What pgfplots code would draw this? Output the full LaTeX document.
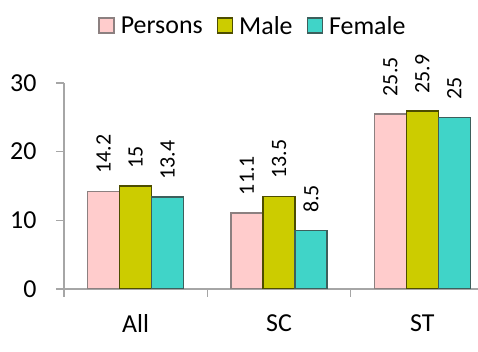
\documentclass[border=0pt]{standalone}
\usepackage{pgfplots}
\pgfplotsset{compat=1.18}
\usepackage{fontspec}
\setmainfont{Carlito}
\definecolor{persfill}{HTML}{FFCCCC}
\definecolor{persdraw}{HTML}{8C8080}
\definecolor{malefill}{HTML}{CCCC00}
\definecolor{maledraw}{HTML}{4D4D00}
\definecolor{femfill}{HTML}{40D4C8}
\definecolor{femdraw}{HTML}{3D5F5C}
\definecolor{axgray}{HTML}{A6A6A6}
\begin{document}
\begin{tikzpicture}
\useasboundingbox (0,0) rectangle (478bp,352bp);
\clip (0,0) rectangle (478bp,352bp);
\begin{axis}[
    at={(64bp,63bp)}, anchor=south west,
    scale only axis,
    width=430bp, height=206bp,
    xmin=-0.5, xmax=2.5,
    ymin=0, ymax=30,
    ytick={0,10,20,30},
    xtick={-0.5,0.5,1.5,2.5},
    xticklabels={},
    extra x ticks={0,1,2},
    extra x tick labels={All,SC,ST},
    extra x tick style={major tick length=0pt, tick label style={yshift=-22bp}},
    axis x line*=bottom,
    axis y line*=left,
    axis line style={axgray, line width=1.5bp},
    tick style={axgray, line width=1.5bp},
    major tick length=8bp,
    tick align=outside,
    tick label style={font=\fontsize{26}{30}\selectfont, black},
    yticklabel style={xshift=-16bp},
    /pgf/number format/assume math mode=true,
    ybar,
    bar width=0.2233,
    nodes near coords,
    every node near coord/.append style={font=\fontsize{22}{26}\selectfont, black,
        rotate=90, anchor=west, inner sep=0pt, xshift=17bp},
    legend style={at={(0.437,1.277)}, anchor=center, draw=none, fill=none,
        legend columns=3, font=\fontsize{26}{30}\selectfont,
        nodes={inner xsep=0pt},
        /tikz/every odd column/.append style={column sep=6bp},
        /tikz/every even column/.append style={column sep=14bp},
        legend cell align=left},
    legend image code/.code={\draw[#1, line width=1.5bp] (0bp,-7bp) rectangle (15bp,8bp);},
]
\addplot[fill=persfill, draw=persdraw, line width=1.5bp, bar shift=-0.2233] coordinates {(0,14.2) (1,11.1) (2,25.5)};
\addplot[fill=malefill, draw=maledraw, line width=1.5bp, bar shift=0] coordinates {(0,15) (1,13.5) (2,25.9)};
\addplot[fill=femfill, draw=femdraw, line width=1.5bp, bar shift=0.2233] coordinates {(0,13.4) (1,8.5) (2,25)};
\legend{Persons,Male,Female}
\end{axis}
\end{tikzpicture}
\end{document}
